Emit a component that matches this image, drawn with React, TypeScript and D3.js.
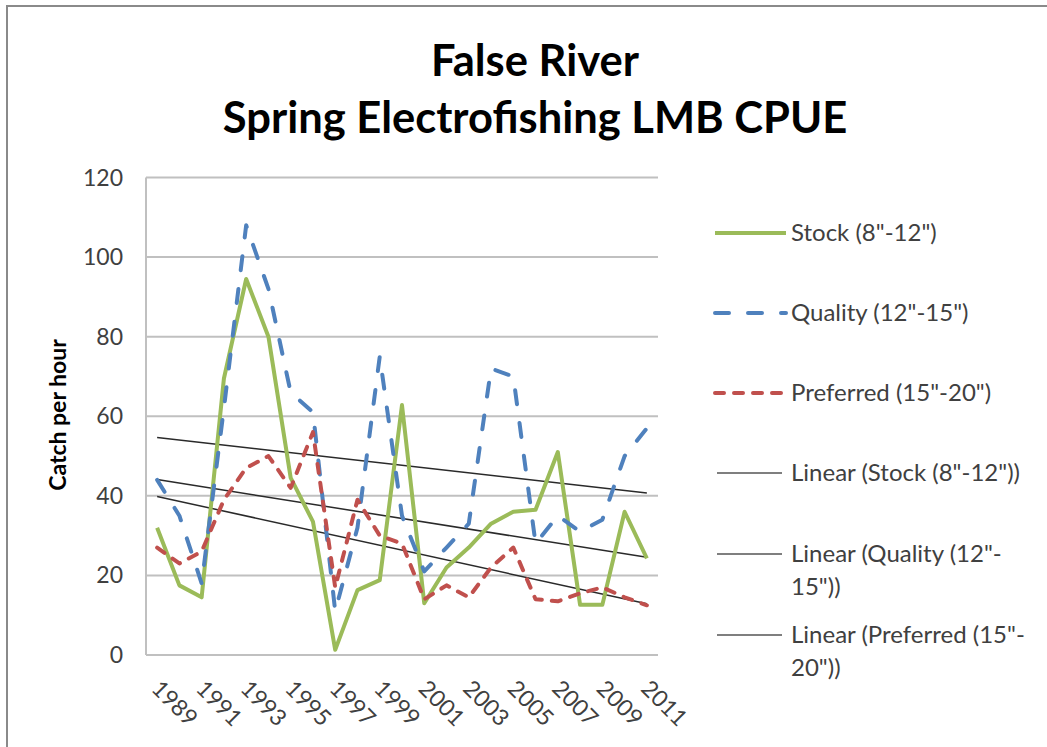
import React from "react";
import * as d3 from "d3";

// categories (one per spring sample)
const years = [
  "1989", "1990", "1991", "1992", "1993", "1994", "1995", "1996", "1997", "1998", "1999", "2000",
  "2001", "2002", "2003", "2004", "2005", "2006", "2007", "2008", "2009", "2010", "2011",
];

// catch per hour
const stock = [32, 17.5, 14.5, 69.5, 94.5, 80, 44.5, 33.5, 1.3, 16.3, 18.8, 62.8, 13, 22, 27, 33, 36, 36.5, 51, 12.6, 12.6, 36, 24.3];
const quality = [44, 35, 18, 62, 108, 92, 66, 61, 11, 32, 75, 35, 21, 27, 33, 72, 70, 28, 35, 31, 34, 50, 57];
const preferred = [27, 23, 26, 39, 47, 50, 42, 56, 17, 39, 30, 28, 14, 17.5, 14.5, 22, 27, 14, 13.5, 15.5, 17, 14.5, 12.5];

const yTicks = [0, 20, 40, 60, 80, 100, 120];
const xTickLabels = ["1989", "1991", "1993", "1995", "1997", "1999", "2001", "2003", "2005", "2007", "2009", "2011"];

const seriesNames = ['Stock (8"-12")', 'Quality (12"-15")', 'Preferred (15"-20")'];
const trendNames = [['Linear (Stock (8"-12"))'], ['Linear (Quality (12"-', '15"))'], ['Linear (Preferred (15"-', '20"))']];

const W = 1047;
const H = 747;
const font = "Lato, 'Open Sans', sans-serif";

// plain least squares, like the spreadsheet trendline
function trend(vals: number[]) {
  const xs = vals.map((_, i) => i);
  const mx = d3.mean(xs) as number;
  const my = d3.mean(vals) as number;
  const sxy = d3.sum(vals, (v, i) => (i - mx) * (v - my));
  const sxx = d3.sum(xs, (x) => (x - mx) * (x - mx));
  const b = sxy / sxx;
  return vals.map((_, i) => my + b * (i - mx));
}

export default function App() {
  const x = d3.scaleBand<string>().domain(years).range([146, 658]).padding(0);
  const y = d3.scaleLinear().domain([0, 120]).range([655, 177.5]);
  const cx = (i: number) => (x(years[i]) as number) + x.bandwidth() / 2;

  const line = d3
    .line<number>()
    .x((_, i) => cx(i))
    .y((v) => y(v));

  const series = [
    { vals: stock, color: "#9BBB59", dash: undefined as string | undefined },
    { vals: quality, color: "#4F81BD", dash: "14,19" },
    { vals: preferred, color: "#C0504D", dash: "9,10" },
  ];

  const trends = series.map((s) => {
    const t = trend(s.vals);
    return [t[0], t[t.length - 1]];
  });
  const last = years.length - 1;

  return (
    <svg width={W} height={H} style={{ position: "absolute", left: 0, top: 0, background: "#fff" }}>
      {/* frame */}
      <path d={`M7,${H} L7,6 L${W},6`} fill="none" stroke="#8a8a8a" strokeWidth={2} />

      <text x={535} y={76} textAnchor="middle" fontFamily={font} fontWeight="bold" fontSize={43.5} fill="#000">
        False River
      </text>
      <text x={535} y={133} textAnchor="middle" fontFamily={font} fontWeight="bold" fontSize={43.5} fill="#000">
        Spring Electrofishing LMB CPUE
      </text>

      {/* gridlines */}
      {yTicks.map((t) => (
        <line key={t} x1={146} x2={658} y1={y(t)} y2={y(t)} stroke="#c0c0c0" strokeWidth={2} />
      ))}
      <line x1={146} x2={146} y1={y(120)} y2={y(0)} stroke="#c0c0c0" strokeWidth={2} />

      {yTicks.map((t) => (
        <text key={t} x={123} y={y(t)} dy="0.35em" textAnchor="end" fontFamily={font} fontSize={23} fill="#404040">
          {t}
        </text>
      ))}

      {xTickLabels.map((lab) => {
        const i = years.indexOf(lab);
        return (
          <text
            key={lab}
            transform={`translate(${cx(i) - 7},${690}) rotate(45)`}
            fontFamily={font}
            fontSize={23}
            fill="#404040"
          >
            {lab}
          </text>
        );
      })}

      <text
        transform={`translate(66,415) rotate(-90)`}
        textAnchor="middle"
        fontFamily={font}
        fontWeight="bold"
        fontSize={23}
        fill="#000"
      >
        Catch per hour
      </text>

      {/* trendlines */}
      {trends.map((t, k) => (
        <line key={k} x1={cx(0)} x2={cx(last)} y1={y(t[0])} y2={y(t[1])} stroke="#2a2a2a" strokeWidth={1.5} />
      ))}

      {/* series */}
      {series.map((s, k) => (
        <path
          key={k}
          d={line(s.vals) as string}
          fill="none"
          stroke={s.color}
          strokeWidth={4}
          strokeDasharray={s.dash}
          strokeLinecap={s.dash ? "round" : "butt"}
          strokeLinejoin="round"
        />
      ))}

      {/* legend */}
      {series.map((s, k) => {
        const ly = 233 + k * 80;
        return (
          <g key={k}>
            <line x1={715} x2={786} y1={ly} y2={ly} stroke={s.color} strokeWidth={4} strokeDasharray={s.dash} strokeLinecap={s.dash ? "round" : "butt"} />
            <text x={791} y={ly} dy="0.35em" fontFamily={font} fontSize={24} fill="#404040">
              {seriesNames[k]}
            </text>
          </g>
        );
      })}
      {trendNames.map((lines, k) => {
        const ly = 473 + k * 81;
        return (
          <g key={k}>
            <line x1={717} x2={782} y1={ly} y2={ly} stroke="#555" strokeWidth={1.5} />
            {lines.map((txt, j) => (
              <text key={j} x={791} y={ly + j * 33} dy="0.35em" fontFamily={font} fontSize={24} fill="#404040">
                {txt}
              </text>
            ))}
          </g>
        );
      })}
    </svg>
  );
}
